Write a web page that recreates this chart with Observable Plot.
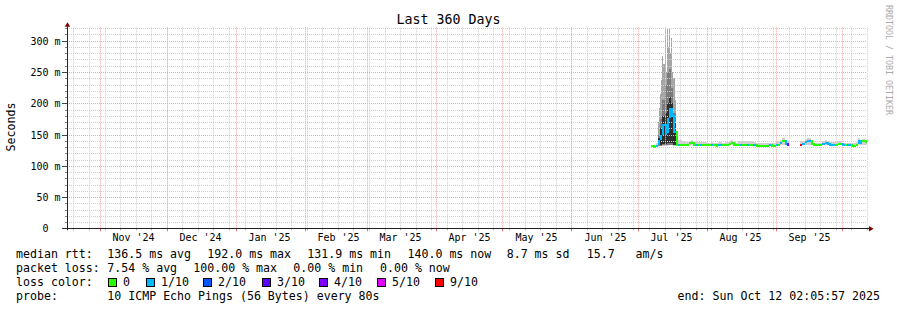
<!DOCTYPE html>
<html><head><meta charset="utf-8">
<script src="https://cdn.jsdelivr.net/npm/d3@7"></script>
<script src="https://cdn.jsdelivr.net/npm/@observablehq/plot@0.6"></script>
<style>
body{margin:0;background:#fff;}
#wrap{position:relative;width:897px;height:310px;overflow:hidden;font-family:"DejaVu Sans Mono",monospace;color:#000;background:#fff;}
.t{position:absolute;white-space:pre;line-height:1;}
.sq{position:absolute;width:7px;height:7px;border:1px solid #000;}
#chart{position:absolute;left:0;top:0;}
</style></head><body><div id="wrap"><div id="chart"></div></div>
<script>
// ---------- text ----------
const title = "Last 360 Days";
const yLabel = "Seconds";
const credit = "RRDTOOL / TOBI OETIKER";
const startTime = "2024-10-17T02:05:57Z";
const endTime = "2025-10-12T02:05:57Z";

// ---------- axes ----------
const monthStarts = ["2024-11-01","2024-12-01","2025-01-01","2025-02-01","2025-03-01","2025-04-01","2025-05-01","2025-06-01","2025-07-01","2025-08-01","2025-09-01","2025-10-01"];
const monthLabels = ["Nov '24","Dec '24","Jan '25","Feb '25","Mar '25","Apr '25","May '25","Jun '25","Jul '25","Aug '25","Sep '25"];
const yTicks = [0,50,100,150,200,250,300];
const yTickLabels = ["0\u00a0\u00a0","50 m","100 m","150 m","200 m","250 m","300 m"];

// ---------- data (daily, from firstDay; null = no data) ----------
const firstDay = "2025-07-07";
const median = [
 132.5,132.0,133.5,141,150,167,152,176,192,181,156,135,134.5,134.5,134.5,134.5,135,137.5,138,135,134.5,134.5,134.5,135,134.5,
 134.5,134.5,134.5,134.5,134,135,134.5,134.5,134.5,134.5,136.5,137.5,135,134.5,134.5,134.5,135,134.5,134.5,134.5,134.5,134.5,134,134,134,134,134,134,134.5,134,134,
 134.5,135.5,138.5,141,137,135.5,
 null,null,null,null,null,
 135,136,139.5,142,141,136,134.5,134.5,134.5,134.5,136.5,138.5,137,135,134.5,134.5,134.5,137,136,
 134.5,134.5,134.5,134.5,134,134,134.5,141.5,138,140.5,140];
const lossCount = [
 0,0,1,1,1,1,1,1,1,1,1,0,1,0,0,0,0,0,0,0,1,0,1,0,0,
 0,0,1,0,0,1,1,0,0,0,0,0,0,0,0,1,0,0,1,0,0,1,0,0,0,0,0,0,1,0,0,
 1,0,1,0,1,4,
 null,null,null,null,null,
 9,1,1,1,1,0,0,0,0,0,1,1,1,1,1,1,0,0,0,
 1,0,1,1,0,0,0,1,1,0,0];
const pingMin = [
 131,131,131,131,131,132,132,132,133,133,132,133,133,133,133,133,133,134,134,133,133,133,133,133,133,
 133,133,133,133,133,133,133,133,133,133,133,133,133,133,133,133,133,133,133,133,133,133,133,133,133,133,133,133,133,133,133,
 133,133,134,134,133,133,
 null,null,null,null,null,
 133,133,134,134,134,133,133,133,133,133,133,134,133,133,133,133,133,133,133,
 133,133,133,133,133,133,133,134,134,134,134];
const pingMax = [
 134,134,137,150,175,205,230,250,255,225,185,141,141,141,140,138,138,140,141,138,139,138,138,138,138,
 137,137,138,137,137,138,138,137,138,138,140,141,138,137,140,140,140,140,139,140,139,138,137,137,137,137,137,137,137,137,137,
 138,139,142,144,141,139,
 null,null,null,null,null,
 139,140,143,145,144,140,137,137,137,137,140,141,140,138,138,138,138,140,139,
 137,137,137,137,137,137,138,145,142,143,142];
// July burst: outer smoke at 12-hour resolution, inner bands daily
const burstStart = "2025-07-10T00:00:00Z";
const burstMax = [170,192,215,238,276,262,321,250,321,290,321,280,305,250,240,205];
const burstMin = [131,131,131,131,132,132,132,132,132,132,133,133,133,133,132,132];
const burstDays = ["2025-07-10","2025-07-11","2025-07-12","2025-07-13","2025-07-14","2025-07-15","2025-07-16","2025-07-17"];
const midLo  = [132,132,133,133,134,134,134,133];
const midHi  = [150,175,205,230,250,255,225,185];
const coreLo = [133,134,135,135,136,137,136,134];
const coreHi = [145,160,180,185,200,210,200,170];

// ---------- legend ----------
const lossLabels = ["0","1/10","2/10","3/10","4/10","5/10","9/10"];
const lossColors = ["#26ff00","#00b8ff","#0059ff","#5e00ff","#7e00ff","#dd00ff","#ff0000"];
const rttRow = ["median rtt:","136.5 ms avg","192.0 ms max","131.9 ms min","140.0 ms now","8.7 ms sd","15.7   am/s"];
const lossRow = ["packet loss:","7.54 % avg","100.00 % max","0.00 % min","0.00 % now"];
const lossColorTitle = "loss color:";
const probeRow = ["probe:","10 ICMP Echo Pings (56 Bytes) every 80s"];
const endText = "end: Sun Oct 12 02:05:57 2025";

// ---------- build ----------
const start = new Date(startTime), end = new Date(endTime);
const day0 = new Date(firstDay + "T00:00:00Z");
const bin = n => n >= 6 ? 6 : n;
const rows = median.map((m, i) => {
  const t0 = d3.utcDay.offset(day0, i);
  return {t0, t1: d3.utcDay.offset(t0, 1), med: m, loss: lossCount[i], lo: pingMin[i], hi: pingMax[i], prev: i > 0 ? median[i-1] : null};
});
const valid = rows.filter(r => r.med != null);
const conn = valid.filter(r => r.prev != null && r.prev !== r.med);
const b0 = new Date(burstStart);
const burstOuter = burstMax.map((hi, i) => {
  const t0 = d3.utcHour.offset(b0, 12 * i);
  return {t0, t1: d3.utcHour.offset(t0, 12), lo: burstMin[i], hi};
});
const burst = burstDays.map((d, i) => {
  const t0 = new Date(d + "T00:00:00Z");
  return {t0, t1: d3.utcDay.offset(t0, 1), mLo: midLo[i], mHi: midHi[i], cLo: coreLo[i], cHi: coreHi[i]};
});
const months = monthStarts.map(d => new Date(d + "T00:00:00Z"));
const labelDates = monthLabels.map((l, i) => d3.utcDay.offset(months[i], 15));
const labelByTime = new Map(labelDates.map((d, i) => [+d, monthLabels[i]]));
const ytl = new Map(yTicks.map((v, i) => [v, yTickLabels[i]]));
const sundays = d3.utcSunday.range(start, end);
const minorY = d3.range(10, 330, 10).filter(v => v % 50 !== 0);
const majorY = yTicks.filter(v => v > 0);
const mono = "'DejaVu Sans Mono', monospace";
const gridGray = "#cecece", gridRed = "#f4a2a2";

const chart = Plot.plot({
  width: 897, height: 248,
  marginLeft: 67, marginRight: 30, marginTop: 27.3, marginBottom: 19.7,
  x: {type: "utc", domain: [start, end], round: true},
  y: {domain: [0, 321.5], round: true},
  color: {type: "identity"},
  style: {background: "transparent", color: "#000", fontFamily: mono, overflow: "visible"},
  marks: [
    // smoke
    Plot.rect(burstOuter, {x1: "t0", x2: "t1", y1: "lo", y2: "hi", fill: "#a6a6a6"}),
    Plot.rect(valid, {x1: "t0", x2: "t1", y1: "lo", y2: "hi", fill: "#d0d0d0"}),
    Plot.rect(burst, {x1: "t0", x2: "t1", y1: "mLo", y2: "mHi", fill: "#7c7c7c"}),
    Plot.rect(burst, {x1: "t0", x2: "t1", y1: "cLo", y2: "cHi", fill: "#2e2e2e"}),
    // grid
    Plot.ruleY(minorY, {stroke: gridGray, strokeDasharray: "1,1"}),
    Plot.ruleX(sundays, {stroke: gridGray, strokeDasharray: "1,1"}),
    Plot.ruleY(majorY, {stroke: gridRed, strokeDasharray: "1,1"}),
    Plot.ruleX(months, {stroke: gridRed, strokeDasharray: "1,1"}),
    // median rtt coloured by loss
    Plot.ruleX(conn, {x: "t0", y1: "prev", y2: "med", stroke: d => lossColors[bin(d.loss)], strokeWidth: 2, dx: 0.5}),
    Plot.ruleY(valid, {x1: "t0", x2: "t1", y: "med", stroke: d => lossColors[bin(d.loss)], strokeWidth: 2, dy: 0.5}),
    // axes
    Plot.axisY({ticks: minorY, tickSize: 2, tickFormat: () => "", stroke: "#888", label: null}),
    Plot.axisY({ticks: yTicks, tickSize: 5, tickPadding: 2, tickFormat: d => ytl.get(d), fontSize: 10, fontFamily: mono, stroke: "#444", label: null}),
    Plot.axisX({ticks: sundays, tickSize: 2, tickFormat: () => "", stroke: "#aaa", label: null}),
    Plot.axisX({ticks: months, tickSize: 3, tickFormat: () => "", stroke: "#e07070", label: null}),
    Plot.axisX({ticks: labelDates, tickSize: 0, tickPadding: 5.5, tickFormat: d => labelByTime.get(+d), fontSize: 10, fontFamily: mono, label: null}),
    Plot.ruleY([0], {stroke: "#222", insetLeft: -4, insetRight: -2}),
    Plot.ruleX([start], {stroke: "#222", insetTop: -1, insetBottom: -2}),
    Plot.dot([0], {frameAnchor: "top-left", symbol: "triangle", r: 2, fill: "#7f0000", stroke: "none", dy: -2.5}),
    Plot.dot([0], {frameAnchor: "bottom-right", symbol: "triangle", r: 2, fill: "#7f0000", stroke: "none", rotate: 90, dx: 3})
  ]
});
document.getElementById("chart").appendChild(chart);

// ---------- text around the plot ----------
const wrap = document.getElementById("wrap");
function addText(str, left, baseline, fs, opts = {}) {
  const el = document.createElement("div");
  el.className = "t";
  el.textContent = str;
  el.style.fontSize = fs + "px";
  el.style.top = (baseline - 0.846 * fs) + "px";
  if (opts.right != null) el.style.right = (897 - opts.right) + "px";
  else if (opts.center) { el.style.left = left + "px"; el.style.transform = "translateX(-50%)"; }
  else el.style.left = left + "px";
  if (opts.color) el.style.color = opts.color;
  wrap.appendChild(el);
  return el;
}
function addRotated(str, cx, cy, fs, deg, color) {
  const el = document.createElement("div");
  el.className = "t";
  el.textContent = str;
  el.style.fontSize = fs + "px";
  el.style.left = cx + "px";
  el.style.top = cy + "px";
  el.style.transform = `translate(-50%,-50%) rotate(${deg}deg)`;
  if (color) el.style.color = color;
  wrap.appendChild(el);
}
addText(title, 448.5, 24, 13.3, {center: true});
addRotated(yLabel, 11.5, 127, 11.6, -90);
addRotated(credit, 888.5, 60, 8.3, 90, "#aaa");

const fs = 11.6;
const rttX = [16, 107.3, 207.3, 307.3, 407.5, 506.7, 586.7];
rttRow.forEach((s, i) => addText(s, rttX[i], 259, fs));
const lossX = [16, 107.3, 193.3, 293.3, 380];
lossRow.forEach((s, i) => addText(s, lossX[i], 273, fs));
addText(lossColorTitle, 16, 287, fs);
const sqX = [108, 146, 203, 262, 319, 377, 435];
lossLabels.forEach((l, i) => {
  const sq = document.createElement("div");
  sq.className = "sq";
  sq.style.left = sqX[i] + "px";
  sq.style.top = "278px";
  sq.style.background = lossColors[i];
  wrap.appendChild(sq);
  addText(l, sqX[i] + 15, 287, fs);
});
addText(probeRow[0], 16, 301, fs);
addText(probeRow[1], 107.3, 301, fs);
addText(endText, 0, 301, fs, {right: 880});
</script></body></html>
